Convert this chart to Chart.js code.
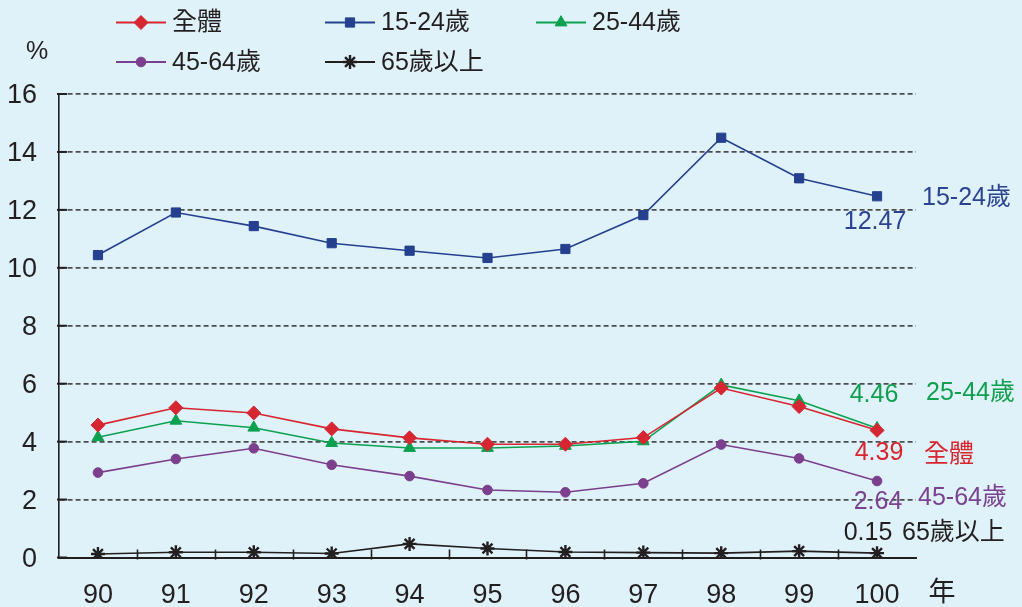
<!DOCTYPE html>
<html>
<head>
<meta charset="utf-8">
<script src="https://cdn.jsdelivr.net/npm/chart.js@4/dist/chart.umd.min.js"></script>
<style>
  html, body { margin: 0; padding: 0; background: #dff1f9; }
  #wrap { width: 1022px; height: 607px; position: relative; }
</style>
</head>
<body>
<div id="wrap"><canvas id="c" width="1022" height="607"></canvas></div>
<script>
// 年度 (民國)
const years = ['90', '91', '92', '93', '94', '95', '96', '97', '98', '99', '100'];
const yTicks = [0, 2, 4, 6, 8, 10, 12, 14, 16];

// 失業率 (%)
const total   = [4.57, 5.17, 4.99, 4.44, 4.13, 3.91, 3.91, 4.14, 5.85, 5.21, 4.39];
const age1524 = [10.44, 11.91, 11.44, 10.85, 10.59, 10.34, 10.65, 11.82, 14.49, 13.09, 12.47];
const age2544 = [4.15, 4.72, 4.48, 3.95, 3.78, 3.78, 3.85, 4.01, 5.96, 5.41, 4.46];
const age4564 = [2.93, 3.40, 3.77, 3.20, 2.81, 2.33, 2.25, 2.56, 3.90, 3.42, 2.64];
const age65up = [0.12, 0.18, 0.18, 0.14, 0.47, 0.31, 0.19, 0.17, 0.15, 0.22, 0.15];

const seriesNames = ['全體', '15-24歲', '25-44歲', '45-64歲', '65歲以上'];

const FONT = "'Liberation Sans', 'Noto Sans CJK TC', sans-serif";
const INK = '#231f20';

const styles = [
  { color: '#d62631', text: '#d9262e', pointStyle: 'rectRot',  radius: 7,   bw: 1 },
  { color: '#24408f', text: '#2b4391', pointStyle: 'rect',     radius: 6.5, bw: 1 },
  { color: '#0ca14f', text: '#10a04f', pointStyle: 'triangle', radius: 6.8, bw: 1 },
  { color: '#7b3f8d', text: '#7a4290', pointStyle: 'circle',   radius: 4.8, bw: 1 },
  { color: INK,       text: INK,       pointStyle: 'star',     radius: 7,   bw: 2.4 }
];

const values = [total, age1524, age2544, age4564, age65up];

const datasets = values.map((v, i) => ({
  label: seriesNames[i],
  data: v,
  borderColor: styles[i].color,
  backgroundColor: styles[i].color,
  borderWidth: 1.6,
  pointStyle: styles[i].pointStyle,
  pointRadius: styles[i].radius,
  pointHoverRadius: styles[i].radius,
  pointBorderWidth: styles[i].bw,
  pointBackgroundColor: styles[i].color,
  pointBorderColor: styles[i].color,
  tension: 0
}));

// legend layout: [x of line start, y] per series
const legendSlots = [[116, 22.5], [325, 22.5], [536, 22.5], [116, 62], [325, 62]];

// end-of-line annotations: value label centre offset (dx, dy) and name anchor (x, y)
const endLabels = [
  { dx: 2,   dy: 23,  nameX: 924, nameY: 455 },
  { dx: -2,  dy: 26,  nameX: 922, nameY: 198 },
  { dx: -3,  dy: -33, nameX: 926, nameY: 393 },
  { dx: 1,   dy: 21,  nameX: 918, nameY: 498 },
  { dx: -9,  dy: -20, nameX: 902, nameY: 533 }
];

function marker(ctx, st, x, y) {
  const opts = { pointStyle: st.pointStyle, radius: st.radius, rotation: 0, borderWidth: st.bw };
  ctx.save();
  ctx.fillStyle = st.color;
  ctx.strokeStyle = st.color;
  ctx.lineWidth = st.bw;
  Chart.helpers.drawPoint(ctx, opts, x, y);
  ctx.restore();
}

const decorations = {
  id: 'decorations',
  beforeDraw(chart) {
    const ctx = chart.ctx;
    ctx.save();
    ctx.fillStyle = '#dff1f9';
    ctx.fillRect(0, 0, chart.width, chart.height);
    ctx.restore();
  },
  afterDraw(chart) {
    const ctx = chart.ctx;
    const area = chart.chartArea;
    const xs = chart.scales.x;
    const ys = chart.scales.y;
    ctx.save();

    // short tick marks between categories on the x axis
    ctx.strokeStyle = INK;
    ctx.lineWidth = 1.6;
    for (let i = 1; i < years.length; i++) {
      const x = Math.round((xs.getPixelForValue(i - 1) + xs.getPixelForValue(i)) / 2) + 0.5;
      ctx.beginPath();
      ctx.moveTo(x, area.bottom - 8);
      ctx.lineTo(x, area.bottom + 2);
      ctx.stroke();
    }
    // short tick marks at each y gridline
    ctx.lineWidth = 2;
    for (const t of yTicks) {
      const y = ys.getPixelForValue(t);
      ctx.beginPath();
      ctx.moveTo(area.left - 2, y);
      ctx.lineTo(area.left + 8, y);
      ctx.stroke();
    }

    // unit labels
    ctx.fillStyle = INK;
    ctx.font = '25px ' + FONT;
    ctx.textAlign = 'center';
    ctx.textBaseline = 'middle';
    ctx.fillText('%', 37, 52);
    ctx.font = '27px ' + FONT;
    ctx.fillText('年', 942, 594);

    // legend
    ctx.font = '25px ' + FONT;
    ctx.textAlign = 'left';
    chart.data.datasets.forEach((ds, i) => {
      const [lx, ly] = legendSlots[i];
      ctx.strokeStyle = styles[i].color;
      ctx.lineWidth = 1.8;
      ctx.beginPath();
      ctx.moveTo(lx, ly);
      ctx.lineTo(lx + 50, ly);
      ctx.stroke();
      marker(ctx, styles[i], lx + 25, ly);
      ctx.fillStyle = INK;
      ctx.fillText(ds.label, lx + 56, ly + 1);
    });

    // values and names at the end of each line
    chart.data.datasets.forEach((ds, i) => {
      const meta = chart.getDatasetMeta(i);
      const last = meta.data[meta.data.length - 1];
      const v = ds.data[ds.data.length - 1];
      const lab = endLabels[i];
      ctx.fillStyle = styles[i].text;
      ctx.textAlign = 'center';
      ctx.fillText(v.toFixed(2), last.x + lab.dx, last.y + lab.dy);
      ctx.textAlign = 'left';
      ctx.fillText(ds.label, lab.nameX, lab.nameY);
    });

    ctx.restore();
  }
};

new Chart(document.getElementById('c'), {
  type: 'line',
  data: { labels: years, datasets },
  options: {
    responsive: false,
    animation: false,
    events: [],
    layout: { padding: { top: 94, right: 106, left: 0, bottom: 0 } },
    plugins: { legend: { display: false }, tooltip: { enabled: false } },
    scales: {
      x: {
        type: 'category',
        offset: true,
        afterFit(s) { s.height = 49.5; },
        grid: { display: true, drawOnChartArea: false, drawTicks: false, offset: true },
        border: { display: true, color: INK, width: 2 },
        ticks: { color: INK, font: { family: FONT, size: 27 }, padding: 22, maxRotation: 0, autoSkip: false }
      },
      y: {
        min: 0,
        max: 16,
        afterFit(s) { s.width = 59; },
        afterBuildTicks(s) { s.ticks = yTicks.map(v => ({ value: v })); },
        grid: {
          color: ctx => (ctx.tick && ctx.tick.value === 0 ? 'rgba(0,0,0,0)' : '#4d4d4d'),
          lineWidth: 1.7,
          drawTicks: false
        },
        border: { display: true, color: INK, width: 1.6, dash: [5, 3] },
        ticks: { color: INK, font: { family: FONT, size: 27 }, padding: 22, labelOffset: 2 }
      }
    }
  },
  plugins: [decorations]
});
</script>
</body>
</html>
